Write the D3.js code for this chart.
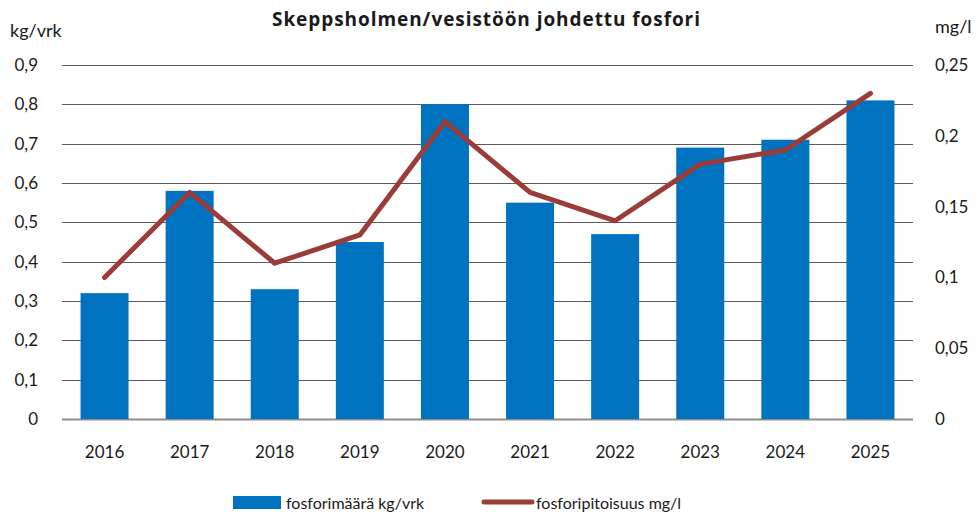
<!DOCTYPE html>
<html>
<head>
<meta charset="utf-8">
<script src="https://cdn.jsdelivr.net/npm/d3@7"></script>
<style>
  body { margin: 0; background: #fff; }
  svg text { font-family: Lato, "Open Sans", sans-serif; fill: #1a1a1a; }
</style>
</head>
<body>
<div id="chart-container"></div>
<script>
'use strict'

var years = ['2016', '2017', '2018', '2019', '2020', '2021', '2022', '2023', '2024', '2025']
var amounts = [0.32, 0.58, 0.33, 0.45, 0.80, 0.55, 0.47, 0.69, 0.71, 0.81]
var concentrations = [0.10, 0.16, 0.11, 0.13, 0.21, 0.16, 0.14, 0.18, 0.19, 0.23]
var leftTicks = [0, 0.1, 0.2, 0.3, 0.4, 0.5, 0.6, 0.7, 0.8, 0.9]
var rightTicks = [0, 0.05, 0.1, 0.15, 0.2, 0.25]

var fmt = function(v) {
    return String(+v.toFixed(2)).replace('.', ',')
}

var width = 980
var height = 519
var margins = { top: 65, bottom: 100, left: 62, right: 67 }

var svg = d3.select('#chart-container')
    .append('svg')
        .attr('width', width)
        .attr('height', height)

let x = d3.scaleBand()
    .domain(years)
    .range([margins.left, width - margins.right])
    .paddingInner(0.436)
    .paddingOuter(0.218)

let y = d3.scaleLinear()
    .domain([0, 0.9])
    .range([height - margins.bottom, margins.top])

let y2 = d3.scaleLinear()
    .domain([0, 0.25])
    .range([height - margins.bottom, margins.top])

// Gridlines
svg.append('g')
    .selectAll('line').data(leftTicks)
    .enter().append('line')
        .attr('x1', margins.left)
        .attr('x2', width - margins.right)
        .attr('y1', d => Math.round(y(d)) + 0.5)
        .attr('y2', d => Math.round(y(d)) + 0.5)
        .attr('stroke', d => d === 0 ? '#8c8c8c' : '#5a5a5a')
        .attr('stroke-width', d => d === 0 ? 2 : 1)

// Bars
svg.append('g')
    .selectAll('rect').data(amounts)
    .enter().append('rect')
        .attr('x', (d, i) => x(years[i]))
        .attr('width', x.bandwidth())
        .attr('y', d => y(d))
        .attr('height', d => y(0) - y(d))
        .attr('fill', '#0073c0')

// Line
let line = d3.line()
    .x((d, i) => x(years[i]) + x.bandwidth() / 2)
    .y(d => y2(d))

svg.append('path')
    .datum(concentrations)
    .attr('d', line)
    .attr('fill', 'none')
    .attr('stroke', '#9b3c38')
    .attr('stroke-width', 5)
    .attr('stroke-linejoin', 'round')
    .attr('stroke-linecap', 'round')

// Left axis labels
svg.append('g')
    .selectAll('text').data(leftTicks)
    .enter().append('text')
        .attr('x', 38)
        .attr('y', d => y(d))
        .attr('dy', '0.35em')
        .style('text-anchor', 'end')
        .style('font-size', '17px')
        .text(fmt)

// Right axis labels
svg.append('g')
    .selectAll('text').data(rightTicks)
    .enter().append('text')
        .attr('x', 935)
        .attr('y', d => y2(d))
        .attr('dy', '0.35em')
        .style('font-size', '17px')
        .text(fmt)

// Category labels
svg.append('g')
    .selectAll('text').data(years)
    .enter().append('text')
        .attr('x', d => x(d) + x.bandwidth() / 2)
        .attr('y', 458)
        .style('text-anchor', 'middle')
        .style('font-size', '17px')
        .text(d => d)

// Title and units
svg.append('text')
    .attr('x', 272)
    .attr('y', 26)
    .attr('textLength', 428)
    .attr('lengthAdjust', 'spacing')
    .style('font-family', '"Open Sans", sans-serif')
    .style('font-size', '19px')
    .style('font-weight', 'bold')
    .text('Skeppsholmen/vesistöön johdettu fosfori')

svg.append('text')
    .attr('x', 10)
    .attr('y', 37)
    .style('font-size', '18px')
    .text('kg/vrk')

svg.append('text')
    .attr('x', 935)
    .attr('y', 33)
    .style('font-size', '18px')
    .text('mg/l')

// Legend
let legend = svg.append('g')

legend.append('rect')
    .attr('x', 233)
    .attr('y', 496)
    .attr('width', 48)
    .attr('height', 13)
    .attr('fill', '#0073c0')

legend.append('text')
    .attr('x', 286)
    .attr('y', 509)
    .style('font-size', '16px')
    .text('fosforimäärä kg/vrk')

legend.append('line')
    .attr('x1', 484)
    .attr('x2', 532)
    .attr('y1', 502)
    .attr('y2', 502)
    .attr('stroke', '#9b3c38')
    .attr('stroke-width', 5)
    .attr('stroke-linecap', 'round')

legend.append('text')
    .attr('x', 536)
    .attr('y', 509)
    .style('font-size', '16px')
    .text('fosforipitoisuus mg/l')
</script>
</body>
</html>
